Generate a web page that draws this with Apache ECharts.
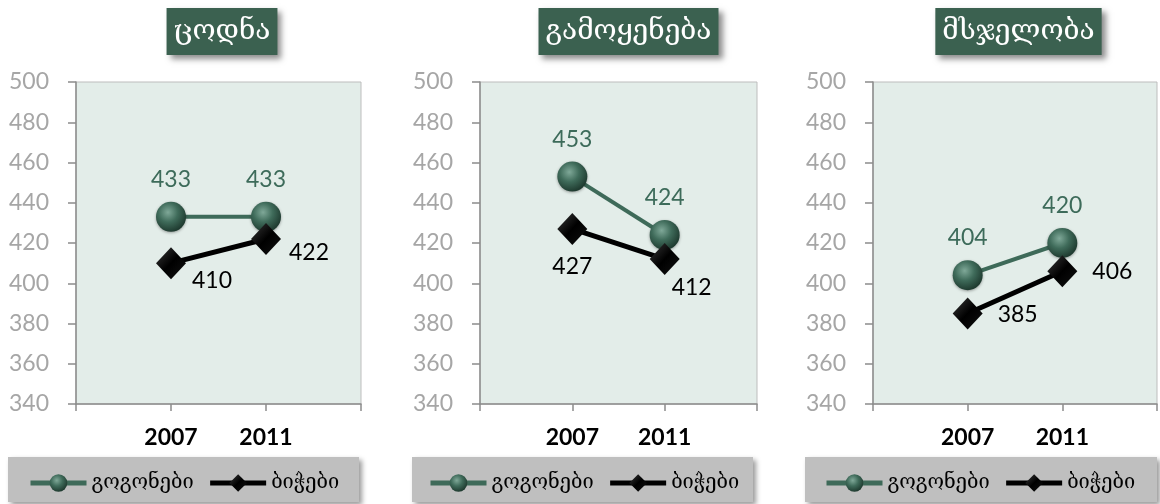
<!DOCTYPE html>
<html><head><meta charset="utf-8">
<script src="https://cdn.jsdelivr.net/npm/echarts@6/dist/echarts.min.js"></script>
<style>html,body{margin:0;padding:0;background:#fff}#c{width:1160px;height:504px}</style>
</head><body><div id="c"></div>
<script>
const categories = ['2007', '2011'];
const panelTitles = ['ცოდნა', 'გამოყენება', 'მსჯელობა'];
const seriesNames = ['გოგონები', 'ბიჭები'];
const girlsKnowing = [433, 433];
const boysKnowing = [410, 422];
const girlsApplying = [453, 424];
const boysApplying = [427, 412];
const girlsReasoning = [404, 420];
const boysReasoning = [385, 406];
const yMin = 340, yMax = 500, yStep = 20;

const girlsData = [girlsKnowing, girlsApplying, girlsReasoning];
const boysData = [boysKnowing, boysApplying, boysReasoning];

// layout (pixels)
const grids = [
  {left: 76, top: 82, width: 285, height: 322},
  {left: 480, top: 82, width: 277, height: 322},
  {left: 873, top: 82, width: 286, height: 322}
];
const titleCenters = [222, 628.5, 1018.5];
const titlePadX = 7;
const legendBoxes = [
  {x: 8, w: 351, iconLeft: 23},
  {x: 412, w: 341, iconLeft: 423},
  {x: 805, w: 352, iconLeft: 819}
];
const boyLabelOffsets = [
  [[41, 17], [43, 14]],
  [[0, 38], [27, 28]],
  [[50, 1], [50, 0]]
];

const GREEN = '#3e6a59';
const sphere = {type: 'radial', x: 0.4, y: 0.35, r: 0.65,
  colorStops: [{offset: 0, color: '#7fa898'}, {offset: 0.5, color: '#3f6b5a'}, {offset: 1, color: '#1f3b30'}]};
const diamondFill = {type: 'linear', x: 0, y: 0, x2: 1, y2: 1,
  colorStops: [{offset: 0, color: '#3a3a3a'}, {offset: 0.5, color: '#000'}, {offset: 1, color: '#111'}]};

const axisCats = [''].concat(categories, ['']);
const numFont = 'Lato, "Open Sans", sans-serif';
const geoFont = '"DejaVu Serif", "DejaVu Sans", serif';

const option = {
  animation: false,
  backgroundColor: '#ffffff',
  title: panelTitles.map((t, i) => ({
    text: t, left: titleCenters[i] - titlePadX, top: 8, textAlign: 'center',
    backgroundColor: '#3b6150', padding: [7, titlePadX],
    shadowBlur: 6, shadowColor: 'rgba(0,0,0,0.45)', shadowOffsetX: 4, shadowOffsetY: 4,
    textStyle: {color: '#ffffff', fontFamily: geoFont, fontWeight: 'normal', fontSize: 28, lineHeight: 33}
  })),
  graphic: legendBoxes.map(b => ({
    type: 'rect', left: b.x, top: 457, z: -1,
    shape: {width: b.w, height: 45},
    style: {fill: '#bfbfbf', shadowBlur: 5, shadowColor: 'rgba(0,0,0,0.4)', shadowOffsetX: 3, shadowOffsetY: 3}
  })),
  legend: legendBoxes.map(b => ({
    left: b.iconLeft, top: 468, itemWidth: 56, itemHeight: 22, itemGap: 14,
    data: seriesNames, selectedMode: false,
    lineStyle: {width: 5},
    textStyle: {fontFamily: geoFont, fontSize: 20, color: '#000'}
  })),
  grid: grids.map(g => Object.assign({show: true, backgroundColor: '#e3ede9', borderColor: '#bdbdbd', borderWidth: 1}, g)),
  xAxis: grids.map((g, i) => ({
    gridIndex: i, type: 'category', data: axisCats, boundaryGap: false,
    axisLine: {lineStyle: {color: '#8c8c8c', width: 1.5}},
    axisTick: {show: true, length: 7, lineStyle: {color: '#8c8c8c', width: 1.5}, interval: 0},
    axisLabel: {color: '#000', fontFamily: numFont, fontWeight: 'bold', fontSize: 23, margin: 22, interval: 0},
    splitLine: {show: false}
  })),
  yAxis: grids.map((g, i) => ({
    gridIndex: i, type: 'value', min: yMin, max: yMax, interval: yStep,
    axisLine: {show: true, lineStyle: {color: '#8c8c8c', width: 1.5}},
    axisTick: {show: true, length: 8, lineStyle: {color: '#8c8c8c', width: 1.5}},
    axisLabel: {color: '#a6a6a6', fontFamily: numFont, fontSize: 23, margin: 27},
    splitLine: {show: false}
  })),
  series: []
};

for (let i = 0; i < 3; i++) {
  option.series.push({
    name: seriesNames[0], type: 'line', xAxisIndex: i, yAxisIndex: i,
    data: categories.map((c, j) => [c, girlsData[i][j]]),
    symbol: 'circle', symbolSize: 30, z: 3,
    lineStyle: {color: GREEN, width: 4},
    itemStyle: {color: sphere, borderWidth: 0, shadowBlur: 3, shadowColor: 'rgba(0,0,0,0.35)', shadowOffsetY: 1},
    label: {show: true, position: 'top', distance: 11, color: '#3d6b5a', fontFamily: numFont, fontSize: 23}
  });
  option.series.push({
    name: seriesNames[1], type: 'line', xAxisIndex: i, yAxisIndex: i,
    data: categories.map((c, j) => ({
      value: [c, boysData[i][j]],
      label: {offset: boyLabelOffsets[i][j]}
    })),
    symbol: 'diamond', symbolSize: [30, 32], z: 4,
    lineStyle: {color: '#000', width: 5},
    itemStyle: {color: diamondFill, borderWidth: 0},
    label: {show: true, position: 'inside', color: '#000', fontFamily: numFont, fontSize: 23}
  });
}

const chart = echarts.init(document.getElementById('c'), null, {renderer: 'canvas'});
chart.setOption(option);
</script>
</body></html>
